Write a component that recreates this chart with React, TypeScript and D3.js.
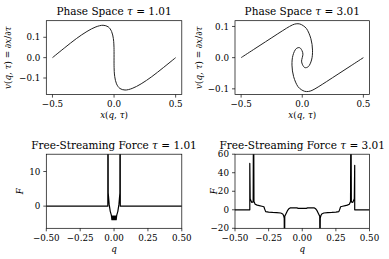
import React from "react";
import * as d3 from "d3";

// phase space at tau = 1.01, points (x, v)
const phaseTau1: [number, number][] = [
  [-0.5, 0], [-0.4, 0.049], [-0.306, 0.0935], [-0.22, 0.1286], [-0.147, 0.1512],
  [-0.089, 0.159], [-0.047, 0.1512], [-0.02, 0.1286], [-0.0056, 0.0935],
  [-0.0016, 0.0677], [-0.0004, 0.049], [0.0001, 0.03], [0, 0],
  [-0.0001, -0.03], [0.0004, -0.049], [0.0016, -0.0677], [0.0056, -0.0935],
  [0.02, -0.1286], [0.047, -0.1512], [0.089, -0.159], [0.147, -0.1512],
  [0.22, -0.1286], [0.306, -0.0935], [0.4, -0.049], [0.5, 0],
];

// phase space at tau = 3.01 (spiral)
const phaseTau3: [number, number][] = [
  [-0.5, 0], [-0.4, 0.0255], [-0.3, 0.051], [-0.2, 0.0765], [-0.13, 0.094],
  [-0.08, 0.105], [-0.05, 0.1085], [-0.02, 0.108], [0.008, 0.1025], [0.035, 0.093],
  [0.0705, 0.061], [0.084, 0.024], [0.076, -0.0075], [0.049, -0.029],
  [0.0216, -0.032], [0.0026, -0.023], [-0.0055, -0.011], [0, 0],
  [0.0055, 0.011], [-0.0026, 0.023], [-0.0216, 0.032], [-0.049, 0.029],
  [-0.076, 0.0075], [-0.084, -0.024], [-0.0705, -0.061], [-0.035, -0.093],
  [-0.008, -0.1025], [0.02, -0.108], [0.05, -0.1085], [0.08, -0.105],
  [0.13, -0.094], [0.2, -0.0765], [0.3, -0.051], [0.4, -0.0255], [0.5, 0],
];

// free-streaming force at tau = 1.01, points (q, F)
const forceTau1: [number, number][] = [
  [-0.5, 0], [-0.046, 0], [-0.046, 40], [-0.044, 40], [-0.043, 3.8], [-0.036, 0.5],
  [-0.028, -1.5], [-0.02, -2.6], [-0.018, -3.2], [-0.016, -3.9], [-0.014, -2.9],
  [-0.012, -3.9], [-0.01, -2.9], [-0.008, -3.9], [-0.006, -2.9], [-0.004, -3.9],
  [-0.002, -2.9], [0, -3.9], [0.002, -2.9], [0.004, -3.9], [0.006, -2.9],
  [0.008, -3.9], [0.01, -2.9], [0.012, -3.9], [0.014, -2.9], [0.016, -3.9],
  [0.018, -3.2], [0.02, -2.6], [0.028, -1.5], [0.036, 0.5], [0.043, 3.8],
  [0.044, 40], [0.046, 40], [0.046, 0], [0.5, 0],
];

// free-streaming force at tau = 3.01
const forceTau3: [number, number][] = [
  [-0.5, 0], [-0.39, 0], [-0.39, 50], [-0.387, 12], [-0.376, 8], [-0.365, 8.5],
  [-0.363, 90], [-0.361, 90], [-0.359, 9], [-0.35, 6], [-0.335, 5], [-0.32, 4.5],
  [-0.3, 3.8], [-0.285, 3.3], [-0.28, 1], [-0.272, -2], [-0.25, -2.5],
  [-0.22, -2.8], [-0.19, -3], [-0.16, -3.5], [-0.145, -4.5], [-0.138, -6.5],
  [-0.134, -9], [-0.133, -40], [-0.131, -40], [-0.13, -7], [-0.12, -4],
  [-0.11, -1], [-0.1, 1], [-0.09, 2], [-0.06, 2.2], [-0.04, 2], [-0.03, 1.5],
  [0, 1.5], [0.03, 1.5], [0.04, 2], [0.06, 2.2], [0.09, 2], [0.1, 1], [0.11, -1],
  [0.12, -4], [0.13, -7], [0.131, -40], [0.133, -40], [0.134, -9], [0.138, -6.5],
  [0.145, -4.5], [0.16, -3.5], [0.19, -3], [0.22, -2.8], [0.25, -2.5],
  [0.272, -2], [0.28, 1], [0.285, 3.3], [0.3, 3.8], [0.32, 4.5], [0.335, 5],
  [0.35, 6], [0.359, 9], [0.361, 90], [0.363, 90], [0.365, 8.5], [0.376, 8],
  [0.387, 12], [0.39, 48], [0.39, 0], [0.5, 0],
];

const phaseXTicks = [-0.5, 0, 0.5];
const phaseVTicks = [-0.1, 0, 0.1];
const forceQTicks = [-0.5, -0.25, 0, 0.25, 0.5];
const forceTicks1 = [0, 10];
const forceTicks3 = [-20, 0, 20, 40, 60];

const minus = (s: string) => s.replace("-", "\u2212");
const fmt1 = (v: number) => minus(v.toFixed(1));
const fmt2 = (v: number) => minus(v.toFixed(2));
const fmt0 = (v: number) => minus(v.toFixed(0));

const FS = 8.75;

interface PanelProps {
  id: string;
  left: number; right: number; top: number; bottom: number;
  xDomain: [number, number]; yDomain: [number, number];
  xTicks: number[]; yTicks: number[];
  xFmt: (v: number) => string; yFmt: (v: number) => string;
  data: [number, number][];
  smooth: boolean;
  title: React.ReactNode;
  xLabel: React.ReactNode; yLabel: React.ReactNode; yLabelX: number;
}

const Panel: React.FC<PanelProps> = (p) => {
  const x = d3.scaleLinear().domain(p.xDomain).range([p.left, p.right]);
  const y = d3.scaleLinear().domain(p.yDomain).range([p.bottom, p.top]);
  const line = d3.line<[number, number]>()
    .x(d => x(d[0]))
    .y(d => y(d[1]))
    .curve(p.smooth ? d3.curveCatmullRom.alpha(0.5) : d3.curveLinear);
  const cx = (p.left + p.right) / 2;
  const cy = (p.top + p.bottom) / 2;
  return (
    <g>
      <clipPath id={p.id}>
        <rect x={p.left} y={p.top} width={p.right - p.left} height={p.bottom - p.top} />
      </clipPath>
      <path d={line(p.data) ?? ""} fill="none" stroke={p.smooth ? "#222" : "#000"}
        strokeWidth={p.smooth ? 1 : 1.2} clipPath={`url(#${p.id})`} strokeLinejoin="round" />
      <rect x={p.left} y={p.top} width={p.right - p.left} height={p.bottom - p.top}
        fill="none" stroke="#000" strokeWidth={0.7} />
      {p.xTicks.map(t => (
        <g key={"x" + t}>
          <line x1={x(t)} x2={x(t)} y1={p.bottom} y2={p.bottom + 3} stroke="#000" strokeWidth={0.7} />
          <text x={x(t)} y={p.bottom + 12.8} fontSize={FS} textAnchor="middle">{p.xFmt(t)}</text>
        </g>
      ))}
      {p.yTicks.map(t => (
        <g key={"y" + t}>
          <line x1={p.left - 3} x2={p.left} y1={y(t)} y2={y(t)} stroke="#000" strokeWidth={0.7} />
          <text x={p.left - 6} y={y(t) + 3.1} fontSize={FS} textAnchor="end">{p.yFmt(t)}</text>
        </g>
      ))}
      <text x={cx} y={p.top - 5.5} fontSize={10.5} textAnchor="middle">{p.title}</text>
      <text x={cx} y={p.bottom + 23.5} fontSize={FS} textAnchor="middle">{p.xLabel}</text>
      <text x={p.yLabelX} y={cy} fontSize={FS} textAnchor="middle"
        transform={`rotate(-90, ${p.yLabelX}, ${cy})`} dominantBaseline="central">{p.yLabel}</text>
    </g>
  );
};

const I = ({ children }: { children: React.ReactNode }) => <tspan fontStyle="italic">{children}</tspan>;

const vLabel = <><I>v</I>(<I>q</I>, <I>τ</I>) = ∂<I>x</I>/∂<I>τ</I></>;
const xLabel = <><I>x</I>(<I>q</I>, <I>τ</I>)</>;

const App: React.FC = () => (
  <svg width={389} height={259} fontFamily="DejaVu Serif"
    style={{ position: "absolute", left: 0, top: 0, background: "#fff" }}>
    <rect width={389} height={259} fill="#fff" />
    <Panel id="c1" left={46.3} right={181.8} top={20.7} bottom={94.6}
      xDomain={[-0.55, 0.55]} yDomain={[-0.1815, 0.1815]}
      xTicks={phaseXTicks} yTicks={phaseVTicks} xFmt={fmt1} yFmt={fmt1}
      data={phaseTau1} smooth
      title={<>Phase Space <I>τ</I> = 1.01</>} xLabel={xLabel} yLabel={vLabel} yLabelX={8} />
    <Panel id="c2" left={235} right={369.5} top={20.7} bottom={94.6}
      xDomain={[-0.55, 0.55]} yDomain={[-0.1185, 0.1185]}
      xTicks={phaseXTicks} yTicks={phaseVTicks} xFmt={fmt1} yFmt={fmt1}
      data={phaseTau3} smooth
      title={<>Phase Space <I>τ</I> = 3.01</>} xLabel={xLabel} yLabel={vLabel} yLabelX={199.5} />
    <Panel id="c3" left={46.3} right={181.8} top={154.2} bottom={228.3}
      xDomain={[-0.5, 0.5]} yDomain={[-6.4, 15]}
      xTicks={forceQTicks} yTicks={forceTicks1} xFmt={fmt2} yFmt={fmt0}
      data={forceTau1} smooth={false}
      title={<>Free-Streaming Force <I>τ</I> = 1.01</>} xLabel={<I>q</I>} yLabel={<I>F</I>} yLabelX={20} />
    <Panel id="c4" left={235} right={369.5} top={154.2} bottom={228.3}
      xDomain={[-0.5, 0.5]} yDomain={[-20, 60]}
      xTicks={forceQTicks} yTicks={forceTicks3} xFmt={fmt2} yFmt={fmt0}
      data={forceTau3} smooth={false}
      title={<>Free-Streaming Force <I>τ</I> = 3.01</>} xLabel={<I>q</I>} yLabel={<I>F</I>} yLabelX={213.5} />
  </svg>
);

export default App;
